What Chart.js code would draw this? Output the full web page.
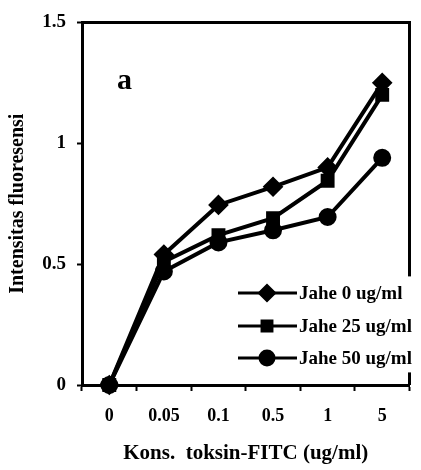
<!DOCTYPE html>
<html>
<head>
<meta charset="utf-8">
<script src="https://cdn.jsdelivr.net/npm/chart.js@4.4.1/dist/chart.umd.min.js"></script>
<style>
  html, body { margin: 0; padding: 0; background: #fff; }
  canvas { display: block; }
</style>
</head>
<body>
<canvas id="myChart" width="421" height="470"></canvas>
<script>
// data
var categories = ['0', '0.05', '0.1', '0.5', '1', '5'];
var seriesNames = ['Jahe 0 ug/ml', 'Jahe 25 ug/ml', 'Jahe 50 ug/ml'];
var jahe0 = [0, 0.54, 0.745, 0.82, 0.90, 1.25];
var jahe25 = [0, 0.51, 0.62, 0.69, 0.845, 1.2];
var jahe50 = [0, 0.47, 0.59, 0.64, 0.695, 0.94];
var yTicks = [0, 0.5, 1, 1.5];
var pointStyles = ['rectRot', 'rect', 'circle'];
var pointSizes = [7.5, 7, 7];

var FONT = '"Liberation Serif", "Times New Roman", serif';

// top/right frame, the "a" label and the legend drawn inside the plot
var framePlugin = {
    id: 'frame',
    afterDraw: function(chart) {
        var ctx = chart.ctx;
        var a = chart.chartArea;
        ctx.save();
        ctx.strokeStyle = '#000';
        ctx.lineWidth = 3;
        ctx.beginPath();
        ctx.moveTo(a.left, a.top);
        ctx.lineTo(a.right, a.top);
        ctx.lineTo(a.right, a.bottom);
        ctx.stroke();

        // panel letter
        ctx.fillStyle = '#000';
        ctx.font = 'bold 30px ' + FONT;
        ctx.textAlign = 'left';
        ctx.textBaseline = 'alphabetic';
        ctx.fillText('a', a.left + 35, a.top + 67);

        // legend box
        ctx.fillStyle = '#fff';
        ctx.fillRect(a.left + 150, a.top + 254, a.right - a.left - 148, 96);
        var rows = [293, 326, 358];
        for (var i = 0; i < seriesNames.length; i++) {
            var y = rows[i];
            ctx.strokeStyle = '#000';
            ctx.lineWidth = 3;
            ctx.beginPath();
            ctx.moveTo(238, y);
            ctx.lineTo(297, y);
            ctx.stroke();
            ctx.fillStyle = '#000';
            Chart.helpers.drawPoint(ctx, {pointStyle: pointStyles[i], radius: pointSizes[i], borderWidth: 1}, 267, y);
            ctx.fill();
            ctx.font = 'bold 19px ' + FONT;
            ctx.textBaseline = 'middle';
            ctx.fillText(seriesNames[i], 299, y + 1);
        }
        ctx.restore();
    }
};

function makeSet(label, data, i) {
    return {
        label: label,
        data: data,
        borderColor: '#000',
        backgroundColor: '#000',
        borderWidth: 4,
        pointStyle: pointStyles[i],
        pointRadius: pointSizes[i],
        pointBackgroundColor: '#000',
        pointBorderColor: '#000',
        tension: 0,
        clip: false
    };
}

const ctx = document.getElementById('myChart').getContext('2d');
const myChart = new Chart(ctx, {
    type: 'line',
    data: {
        labels: categories,
        datasets: [
            makeSet(seriesNames[0], jahe0, 0),
            makeSet(seriesNames[1], jahe25, 1),
            makeSet(seriesNames[2], jahe50, 2)
        ]
    },
    options: {
        responsive: false,
        animation: false,
        layout: { padding: { top: 22, right: 3, left: 0, bottom: 0 } },
        plugins: {
            legend: { display: false },
            tooltip: { enabled: false }
        },
        scales: {
            x: {
                offset: true,
                grid: {
                    offset: true,
                    drawOnChartArea: false,
                    tickLength: 6,
                    tickWidth: 2,
                    color: '#000'
                },
                border: { color: '#000', width: 3 },
                ticks: {
                    color: '#000',
                    padding: 15,
                    maxRotation: 0,
                    font: { family: FONT, size: 18, weight: 'bold' }
                },
                title: {
                    display: true,
                    text: 'Kons.  toksin-FITC (ug/ml)',
                    color: '#000',
                    padding: { top: 15 },
                    font: { family: FONT, size: 21, weight: 'bold' }
                },
                afterFit: function(scale) { scale.height = 85; }
            },
            y: {
                min: 0,
                max: 1.5,
                afterBuildTicks: function(scale) {
                    scale.ticks = yTicks.map(function(v) { return {value: v}; });
                },
                grid: {
                    drawOnChartArea: false,
                    tickLength: 5,
                    tickWidth: 2,
                    color: '#000'
                },
                border: { color: '#000', width: 3 },
                ticks: {
                    color: '#000',
                    padding: 11,
                    font: { family: FONT, size: 19, weight: 'bold' },
                    callback: function(v) { return String(v); }
                },
                title: {
                    display: true,
                    text: 'Intensitas fluoresensi',
                    color: '#000',
                    padding: { top: 6 },
                    font: { family: FONT, size: 20, weight: 'bold' }
                },
                afterFit: function(scale) { scale.width = 82; }
            }
        }
    },
    plugins: [framePlugin]
});
</script>
</body>
</html>
